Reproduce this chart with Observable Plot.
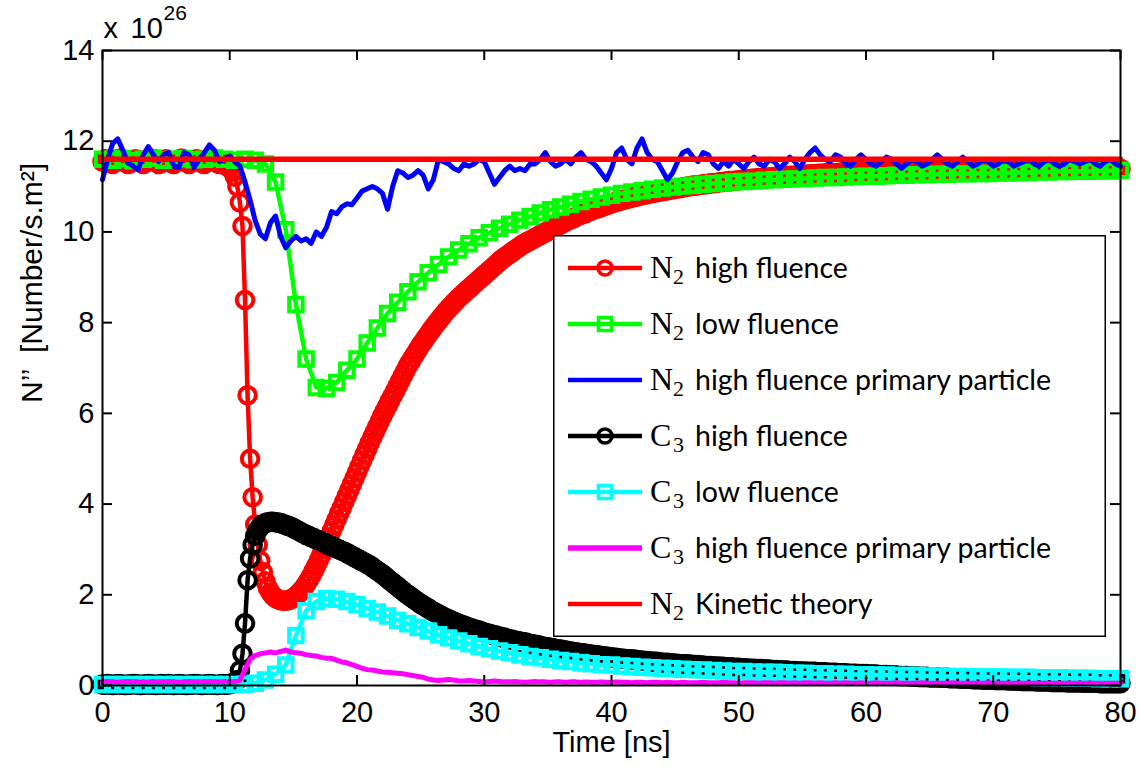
<!DOCTYPE html>
<html><head><meta charset="utf-8">
<script src="https://cdn.jsdelivr.net/npm/d3@7"></script>
<script src="https://cdn.jsdelivr.net/npm/@observablehq/plot@0.6"></script>
<style>
html,body{margin:0;padding:0;background:#fff;}
#wrap{position:relative;width:1141px;height:772px;}
#legend{position:absolute;left:553px;top:235px;}
</style></head><body><div id="wrap"></div>
<script>
// ---------- data (values in units of 1e26 Number/s.m^2) ----------
const xTicks = [0,10,20,30,40,50,60,70,80];
const yTicks = [0,2,4,6,8,10,12,14];
const stepCircle = 0.2;  // ns between samples (circle-marker series)
const stepSquare = 0.8;  // ns between samples (square-marker series)
const stepNoisy = 0.4;   // ns between samples (primary particle series)

const n2HighFluence = [
11.55,11.6,11.58,11.52,11.5, 11.55,11.6,11.62,11.58,11.53, 11.5,11.52,11.57,11.6,11.58, 11.54,11.5,11.53,11.58,11.62,
11.6,11.55,11.5,11.52,11.57, 11.6,11.57,11.52,11.5,11.54, 11.59,11.62,11.58,11.53,11.5, 11.53,11.58,11.6,11.57,11.52,
11.5,11.54,11.6,11.62,11.57, 11.52,11.5,11.5,11.48,11.45, 11.42,11.35,11.22,11.0,10.65, 10.13,8.5,6.4,5.0,4.15,
3.55,3.1,2.75,2.5,2.3, 2.15,2.05,1.98,1.93,1.9, 1.88,1.87,1.87,1.88,1.9, 1.93,1.97,2.02,2.08,2.15,
2.23,2.32,2.42,2.53,2.64, 2.76,2.88,3.01,3.14,3.27, 3.4,3.53,3.66,3.79,3.92, 4.05,4.18,4.31,4.44,4.57,
4.7,4.83,4.96,5.09,5.22, 5.35,5.47,5.59,5.71,5.83, 5.95,6.06,6.17,6.28,6.39, 6.5,6.61,6.72,6.83,6.94,
7.05,7.14,7.23,7.32,7.41, 7.5,7.58,7.66,7.74,7.82, 7.9,7.97,8.04,8.11,8.18, 8.25,8.31,8.37,8.43,8.49,
8.55,8.6,8.65,8.7,8.75, 8.8,8.85,8.9,8.95,9.0, 9.05,9.1,9.15,9.2,9.25, 9.3,9.35,9.4,9.44,9.48,
9.52,9.56,9.6,9.64,9.68, 9.72,9.75,9.78,9.81,9.84, 9.87,9.9,9.93,9.96,9.99, 10.02,10.05,10.08,10.11,10.14,
10.17,10.2,10.23,10.26,10.28, 10.3,10.33,10.36,10.38,10.4, 10.42,10.45,10.47,10.49,10.51, 10.53,10.55,10.57,10.59,10.61,
10.63,10.65,10.67,10.68,10.7, 10.71,10.73,10.74,10.76,10.77, 10.78,10.8,10.81,10.82,10.83, 10.85,10.86,10.87,10.88,10.89,
10.9,10.91,10.92,10.93,10.94, 10.95,10.96,10.97,10.98,10.99, 11.0,11.01,11.02,11.02,11.03, 11.04,11.05,11.05,11.06,11.07,
11.08,11.08,11.09,11.1,11.1, 11.11,11.12,11.12,11.13,11.13, 11.14,11.15,11.15,11.16,11.16, 11.17,11.17,11.18,11.18,11.19,
11.19,11.2,11.2,11.21,11.21, 11.22,11.22,11.22,11.23,11.23, 11.24,11.24,11.24,11.25,11.25, 11.26,11.26,11.26,11.27,11.27,
11.27,11.28,11.28,11.28,11.29, 11.29,11.29,11.3,11.3,11.3, 11.31,11.31,11.31,11.31,11.32, 11.32,11.32,11.32,11.33,11.33,
11.33,11.33,11.34,11.34,11.34, 11.34,11.34,11.35,11.35,11.35, 11.35,11.35,11.36,11.36,11.36, 11.36,11.36,11.36,11.37,11.37,
11.37,11.37,11.37,11.37,11.37, 11.37,11.37,11.38,11.38,11.38, 11.38,11.38,11.38,11.38,11.38, 11.38,11.38,11.38,11.38,11.38,
11.38,11.38,11.38,11.38,11.38, 11.38,11.38,11.38,11.38,11.38, 11.38,11.38,11.38,11.38,11.38, 11.38,11.38,11.38,11.38,11.38,
11.38,11.38,11.38,11.38,11.38, 11.39,11.39,11.39,11.39,11.39, 11.39,11.39,11.39,11.39,11.39, 11.39,11.39,11.39,11.39,11.39,
11.39,11.39,11.39,11.39,11.39, 11.39,11.39,11.39,11.39,11.39, 11.39,11.39,11.39,11.39,11.39, 11.39,11.39,11.39,11.39,11.39,
11.39
];

const n2LowFluence = [
11.6,11.58,11.62,11.57,11.6,11.63,11.58,11.6,11.62,11.59,
11.6,11.63,11.6,11.58,11.6,11.58,11.5,11.1,10.05,8.4,
7.2,6.57,6.55,6.68,6.95,7.2,7.55,7.88,8.2,8.45,
8.68,8.9,9.1,9.28,9.45,9.6,9.74,9.87,9.98,10.08,
10.17,10.26,10.34,10.42,10.49,10.55,10.61,10.67,10.72,10.77,
10.81,10.85,10.88,10.91,10.94,10.97,10.99,11.01,11.03,11.05,
11.07,11.08,11.1,11.11,11.12,11.14,11.15,11.16,11.17,11.18,
11.19,11.2,11.2,11.21,11.22,11.23,11.23,11.24,11.25,11.25,
11.26,11.26,11.27,11.27,11.28,11.28,11.29,11.29,11.3,11.3,
11.31,11.31,11.32,11.32,11.33,11.33,11.34,11.34,11.35,11.35,
11.36
];

const n2Primary = [
11.15,11.6,11.95,12.05,11.8,11.52,11.45,11.37,11.7,11.88,
11.7,11.55,11.7,11.75,11.45,11.42,11.75,11.7,11.42,11.6,
11.75,11.92,11.8,11.55,11.6,11.68,11.55,11.45,11.1,10.7,
10.25,9.95,9.85,10.2,10.35,9.9,9.65,9.8,9.9,9.8,
9.85,9.75,10.0,9.9,10.1,10.45,10.4,10.55,10.62,10.6,
10.75,10.9,10.95,11.0,10.95,10.85,10.5,11.0,11.35,11.3,
11.2,11.25,11.35,11.25,10.95,11.15,11.6,11.55,11.5,11.4,
11.35,11.5,11.45,11.5,11.6,11.55,11.3,11.05,11.2,11.35,
11.45,11.35,11.4,11.35,11.5,11.5,11.6,11.75,11.55,11.45,
11.5,11.6,11.5,11.65,11.75,11.6,11.55,11.45,11.3,11.15,
11.4,11.75,11.85,11.6,11.5,11.85,12.05,11.75,11.6,11.55,
11.35,11.15,11.3,11.55,11.75,11.8,11.65,11.55,11.75,11.7,
11.5,11.4,11.55,11.45,11.6,11.5,11.4,11.55,11.65,11.5,
11.45,11.6,11.55,11.4,11.5,11.65,11.55,11.4,11.6,11.75,
11.85,11.7,11.6,11.55,11.7,11.65,11.5,11.45,11.6,11.7,
11.6,11.5,11.45,11.55,11.65,11.6,11.5,11.4,11.5,11.6,
11.55,11.45,11.5,11.6,11.7,11.6,11.5,11.45,11.55,11.65,
11.55,11.45,11.5,11.6,11.55,11.45,11.5,11.6,11.55,11.45,
11.5,11.55,11.6,11.5,11.45,11.55,11.6,11.5,11.45,11.5,
11.6,11.55,11.5,11.55,11.6,11.5,11.45,11.55,11.6,11.5,
11.45
];

const c3HighFluence = [
0.02,0.02,0.03,0.02,0.01, 0.02,0.03,0.02,0.02,0.01, 0.02,0.02,0.03,0.03,0.02, 0.01,0.02,0.02,0.03,0.02,
0.02,0.01,0.02,0.03,0.02, 0.02,0.03,0.02,0.01,0.02, 0.03,0.02,0.02,0.01,0.02, 0.02,0.03,0.03,0.02,0.01,
0.02,0.02,0.03,0.02,0.02, 0.01,0.02,0.03,0.02,0.02, 0.03,0.05,0.08,0.12,0.33, 0.7,1.37,2.32,2.8,3.1,
3.3,3.42,3.5,3.55,3.58, 3.6,3.61,3.61,3.6,3.59, 3.58,3.56,3.54,3.52,3.5, 3.47,3.44,3.41,3.38,3.35,
3.32,3.3,3.27,3.25,3.22, 3.2,3.17,3.15,3.12,3.1, 3.07,3.05,3.02,3.0,2.97, 2.95,2.92,2.89,2.86,2.83,
2.8,2.77,2.74,2.71,2.68, 2.65,2.61,2.57,2.53,2.49, 2.45,2.41,2.36,2.31,2.27, 2.22,2.18,2.13,2.09,2.04,
2.0,1.96,1.92,1.88,1.84, 1.8,1.77,1.73,1.7,1.66, 1.63,1.6,1.57,1.54,1.51, 1.48,1.46,1.43,1.41,1.38,
1.36,1.34,1.32,1.3,1.28, 1.26,1.24,1.22,1.21,1.19, 1.17,1.15,1.14,1.12,1.11, 1.09,1.08,1.06,1.05,1.03,
1.02,1.01,0.99,0.98,0.97, 0.96,0.95,0.93,0.92,0.91, 0.9,0.89,0.87,0.86,0.85, 0.84,0.83,0.82,0.81,0.8,
0.79,0.78,0.77,0.76,0.75, 0.74,0.73,0.72,0.71,0.71, 0.7,0.69,0.68,0.67,0.67, 0.66,0.65,0.64,0.64,0.63,
0.62,0.61,0.61,0.6,0.59, 0.59,0.58,0.58,0.57,0.57, 0.56,0.55,0.55,0.54,0.54, 0.53,0.53,0.52,0.52,0.51,
0.5,0.5,0.5,0.49,0.49, 0.48,0.48,0.47,0.47,0.47, 0.46,0.46,0.45,0.45,0.45, 0.44,0.44,0.43,0.43,0.43,
0.42,0.42,0.42,0.41,0.41, 0.4,0.4,0.4,0.39,0.39, 0.39,0.38,0.38,0.38,0.37, 0.37,0.37,0.36,0.36,0.36,
0.35,0.35,0.35,0.34,0.34, 0.34,0.33,0.33,0.33,0.33, 0.32,0.32,0.32,0.31,0.31, 0.31,0.31,0.3,0.3,0.3,
0.3,0.29,0.29,0.29,0.29, 0.28,0.28,0.28,0.28,0.27, 0.27,0.27,0.27,0.26,0.26, 0.26,0.26,0.25,0.25,0.25,
0.25,0.24,0.24,0.24,0.24, 0.23,0.23,0.23,0.23,0.22, 0.22,0.22,0.22,0.21,0.21, 0.21,0.21,0.2,0.2,0.2,
0.2,0.19,0.19,0.19,0.19, 0.18,0.18,0.18,0.18,0.17, 0.17,0.17,0.17,0.16,0.16, 0.16,0.16,0.15,0.15,0.15,
0.15,0.15,0.14,0.14,0.14, 0.14,0.13,0.13,0.13,0.13, 0.13,0.12,0.12,0.12,0.12, 0.12,0.11,0.11,0.11,0.11,
0.11,0.1,0.1,0.1,0.1, 0.1,0.1,0.09,0.09,0.09, 0.09,0.09,0.09,0.08,0.08, 0.08,0.08,0.08,0.08,0.07,
0.07,0.07,0.07,0.07,0.07, 0.06,0.06,0.06,0.06,0.06, 0.06,0.06,0.05,0.05,0.05, 0.05,0.05,0.05,0.05,0.05,
0.05
];

const c3LowFluence = [
0.02,0.02,0.02,0.02,0.02,0.02,0.02,0.02,0.02,0.02,
0.02,0.02,0.02,0.02,0.03,0.05,0.12,0.25,0.45,1.1,
1.65,1.85,1.92,1.9,1.85,1.78,1.7,1.62,1.53,1.44,
1.36,1.28,1.2,1.12,1.05,0.98,0.92,0.86,0.81,0.76,
0.72,0.68,0.64,0.61,0.58,0.55,0.53,0.5,0.48,0.46,
0.45,0.43,0.42,0.4,0.39,0.38,0.37,0.36,0.35,0.34,
0.33,0.32,0.31,0.31,0.3,0.29,0.29,0.28,0.27,0.27,
0.26,0.26,0.25,0.25,0.24,0.24,0.23,0.23,0.22,0.22,
0.22,0.21,0.21,0.2,0.2,0.2,0.19,0.19,0.19,0.18,
0.18,0.18,0.17,0.17,0.17,0.16,0.16,0.16,0.15,0.15,
0.15
];

const c3Primary = [
0.08,0.09,0.08,0.07,0.08,0.09,0.08,0.08,0.07,0.08,
0.09,0.08,0.08,0.09,0.08,0.07,0.08,0.09,0.08,0.08,
0.08,0.09,0.08,0.08,0.09,0.08,0.08,0.12,0.35,0.58,
0.66,0.7,0.72,0.74,0.72,0.75,0.78,0.74,0.72,0.71,
0.68,0.66,0.65,0.62,0.6,0.6,0.56,0.52,0.5,0.46,
0.42,0.38,0.35,0.34,0.32,0.3,0.29,0.28,0.27,0.26,
0.24,0.22,0.2,0.18,0.14,0.12,0.11,0.12,0.13,0.12,
0.1,0.1,0.11,0.1,0.09,0.08,0.09,0.1,0.09,0.08,
0.08,0.09,0.08,0.07,0.08,0.09,0.08,0.08,0.07,0.08,
0.08,0.07,0.08,0.08,0.07,0.08,0.07,0.07,0.08,0.07,
0.07,0.08,0.07,0.07,0.06,0.07,0.07,0.06,0.07,0.07,
0.06,0.07,0.06,0.06,0.07,0.06,0.06,0.06,0.07,0.06,
0.06,0.06,0.07,0.06,0.06,0.05,0.06,0.06,0.06,0.05,
0.06,0.06,0.05,0.06,0.06,0.05,0.06,0.05,0.06,0.06,
0.05,0.06,0.05,0.05,0.06,0.05,0.06,0.05,0.05,0.06,
0.05,0.05,0.06,0.05,0.05,0.05,0.06,0.05,0.05,0.05,
0.05,0.06,0.05,0.05,0.05,0.05,0.05,0.06,0.05,0.05,
0.05,0.05,0.05,0.05,0.06,0.05,0.05,0.05,0.05,0.05,
0.05,0.05,0.05,0.05,0.05,0.05,0.05,0.05,0.05,0.05,
0.05,0.05,0.05,0.05,0.05,0.05,0.05,0.05,0.05,0.05,
0.05
];

const kineticTime = [0, 80];
const kineticValue = [11.6, 11.6];

const legendLabels = [
  ["N","2","high fluence"],
  ["N","2","low fluence"],
  ["N","2","high fluence primary particle"],
  ["C","3","high fluence"],
  ["C","3","low fluence"],
  ["C","3","high fluence primary particle"],
  ["N","2","Kinetic theory"]
];

// ---------- build tables ----------
const toRows = (vals, step) => vals.map((v, i) => ({t: Math.round(i * step * 100) / 100, v}));
const dN2High = toRows(n2HighFluence, stepCircle);
const dN2Low = toRows(n2LowFluence, stepSquare);
const dN2Prim = toRows(n2Primary, stepNoisy);
const dC3High = toRows(c3HighFluence, stepCircle);
const dC3Low = toRows(c3LowFluence, stepSquare);
const dC3Prim = toRows(c3Primary, stepNoisy);
const dKin = kineticTime.map((t, i) => ({t, v: kineticValue[i]}));

const W = 1141, H = 772, mL = 102, mR = 21, mT = 50, mB = 87;
const plotW = W - mL - mR, plotH = H - mT - mB;
const RED = "#ff0000", GREEN = "#00ff00", BLUE = "#0000ff", CYAN = "#00ffff", MAGENTA = "#ff00ff", BLACK = "#000000";
const LW = 4.5;
const circleR = 8.3, squareR = 7.6, mSW = 4;

const chart = Plot.plot({
  width: W, height: H,
  marginLeft: mL, marginRight: mR, marginTop: mT, marginBottom: mB,
  style: {fontFamily: "'Liberation Sans', Arial, sans-serif", fontSize: "29px", background: "#fff", overflow: "visible"},
  x: {domain: [0, 80]},
  y: {domain: [0, 14]},
  marks: [
    Plot.line(dN2High, {x: "t", y: "v", stroke: RED, strokeWidth: LW}),
    Plot.dot(dN2High, {x: "t", y: "v", r: circleR, stroke: RED, strokeWidth: mSW, fill: "none"}),
    Plot.line(dN2Low, {x: "t", y: "v", stroke: GREEN, strokeWidth: LW}),
    Plot.dot(dN2Low, {x: "t", y: "v", r: squareR, symbol: "square", stroke: GREEN, strokeWidth: mSW, fill: "none"}),
    Plot.line(dN2Prim, {x: "t", y: "v", stroke: BLUE, strokeWidth: LW + 0.5, strokeLinejoin: "round"}),
    Plot.line(dC3High, {x: "t", y: "v", stroke: BLACK, strokeWidth: LW}),
    Plot.dot(dC3High, {x: "t", y: "v", r: circleR, stroke: BLACK, strokeWidth: mSW, fill: "none"}),
    Plot.line(dC3Low, {x: "t", y: "v", stroke: CYAN, strokeWidth: LW}),
    Plot.dot(dC3Low, {x: "t", y: "v", r: squareR, symbol: "square", stroke: CYAN, strokeWidth: mSW, fill: "none"}),
    Plot.line(dC3Prim, {x: "t", y: "v", stroke: MAGENTA, strokeWidth: LW + 0.5, strokeLinejoin: "round"}),
    Plot.line(dKin, {x: "t", y: "v", stroke: RED, strokeWidth: LW + 1}),
    Plot.frame({stroke: "black", strokeWidth: 2}),
    Plot.tickX(xTicks, {x: d => d, insetTop: plotH - 10, stroke: "black", strokeWidth: 2}),
    Plot.tickX(xTicks, {x: d => d, insetBottom: plotH - 10, stroke: "black", strokeWidth: 2}),
    Plot.tickY(yTicks, {y: d => d, insetRight: plotW - 10, stroke: "black", strokeWidth: 2}),
    Plot.tickY(yTicks, {y: d => d, insetLeft: plotW - 10, stroke: "black", strokeWidth: 2}),
    Plot.axisX({ticks: xTicks, tickSize: 0, tickPadding: 16, label: null, tickFormat: d => String(d)}),
    Plot.axisY({ticks: yTicks, tickSize: 0, tickPadding: 8, label: null, tickFormat: d => String(d)}),
    Plot.text(["Time [ns]"], {frameAnchor: "bottom", dy: 66, text: d => d, fontSize: 29}),
    Plot.text(["N\u2019\u2019  [Number/s.m\u00B2]"], {frameAnchor: "left", dx: -70, dy: 35, rotate: -90, text: d => d, fontSize: 30}),
    Plot.text(["x"], {frameAnchor: "top-left", textAnchor: "start", lineAnchor: "bottom", dx: 1, dy: -13, text: d => d, fontSize: 29}),
    Plot.text(["10"], {frameAnchor: "top-left", textAnchor: "start", lineAnchor: "bottom", dx: 28, dy: -13, text: d => d, fontSize: 29}),
    Plot.text(["26"], {frameAnchor: "top-left", textAnchor: "start", lineAnchor: "bottom", dx: 61, dy: -31, text: d => d, fontSize: 21})
  ]
});

const wrap = document.getElementById("wrap");
wrap.appendChild(chart);

// ---------- legend ----------
const legendStyles = [
  {color: RED, marker: "circle"},
  {color: GREEN, marker: "square"},
  {color: BLUE, marker: null},
  {color: BLACK, marker: "circle"},
  {color: CYAN, marker: "square"},
  {color: MAGENTA, marker: null},
  {color: RED, marker: null}
];
const LGW = 553, LGH = 402;
const lg = d3.select(wrap).append("svg").attr("id", "legend").attr("width", LGW).attr("height", LGH);
lg.append("rect").attr("x", 0.75).attr("y", 0.75).attr("width", LGW - 1.5).attr("height", LGH - 1.5)
  .attr("fill", "#fff").attr("stroke", "#000").attr("stroke-width", 1.5);
legendLabels.forEach((lab, i) => {
  const cy = 33 + i * 56;
  const st = legendStyles[i];
  const g = lg.append("g");
  g.append("line").attr("x1", 15).attr("x2", 89).attr("y1", cy).attr("y2", cy)
    .attr("stroke", st.color).attr("stroke-width", i === 5 ? 5.5 : 4.5);
  if (st.marker === "circle") {
    g.append("circle").attr("cx", 52).attr("cy", cy).attr("r", 7).attr("fill", "none")
      .attr("stroke", st.color).attr("stroke-width", 3.5);
  } else if (st.marker === "square") {
    g.append("rect").attr("x", 52 - 6.5).attr("y", cy - 6.5).attr("width", 13).attr("height", 13)
      .attr("fill", "none").attr("stroke", st.color).attr("stroke-width", 3.5);
  }
  g.append("text").attr("x", 97).attr("y", cy + 10)
    .attr("font-family", "'Liberation Serif', 'DejaVu Serif', serif").attr("font-size", 32).text(lab[0]);
  g.append("text").attr("x", 120).attr("y", cy + 16)
    .attr("font-family", "'Liberation Serif', 'DejaVu Serif', serif").attr("font-size", 22).text(lab[1]);
  g.append("text").attr("x", 142).attr("y", cy + 10)
    .attr("font-family", "Lato, 'Open Sans', sans-serif").attr("font-size", 28.5).text(lab[2]);
});
</script></body></html>
